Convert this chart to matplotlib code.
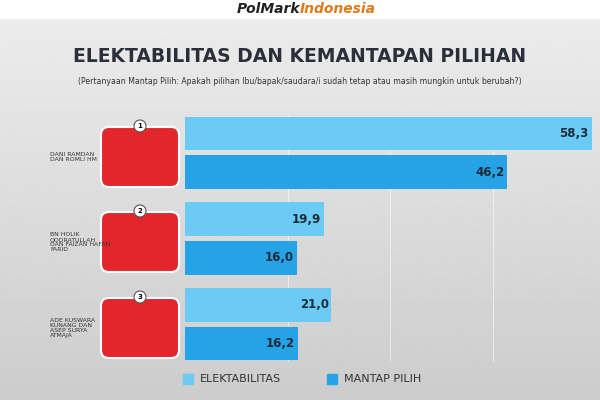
import matplotlib
matplotlib.use("Agg")
import matplotlib.pyplot as plt
import numpy as np
from matplotlib.patches import FancyBboxPatch, Circle

candidates = ["DANI RAMDAN\nDAN ROMLI HM", "BN HOLIK\nQODRATULLAH\nDAN FAIZAN HAFAN\nFARID", "ADE KUSWARA\nKUNANG DAN\nASEP SURYA\nATMAJA"]
numbers = ["1", "2", "3"]
elektabilitas = [58.3, 19.9, 21.0]
mantap_pilih = [46.2, 16.0, 16.2]
value_labels_e = ["58,3", "19,9", "21,0"]
value_labels_m = ["46,2", "16,0", "16,2"]

C_E = "#6ccbf4"
C_M = "#26a3e6"

fig = plt.figure(figsize=(6, 4), dpi=100)
bg = fig.add_axes([0, 0, 1, 1])
grad = np.linspace(0.93, 0.80, 256).reshape(-1, 1)
bg.imshow(grad, cmap="gray", vmin=0, vmax=1, aspect="auto", extent=[0, 600, 0, 400])
bg.add_patch(plt.Rectangle((0, 382), 600, 18, color="white"))
bg.set_xlim(0, 600); bg.set_ylim(0, 400); bg.axis("off")
bg.text(300, 391, "PolMark", ha="right", va="center", fontsize=10, fontweight="bold", style="italic", color="#222222")
bg.text(300, 391, "Indonesia", ha="left", va="center", fontsize=10, fontweight="bold", style="italic", color="#e07a1a")
bg.text(300, 344, "ELEKTABILITAS DAN KEMANTAPAN PILIHAN", ha="center", va="center", fontsize=13.5, fontweight="bold", color="#2a2f3a")
bg.text(300, 318, "(Pertanyaan Mantap Pilih: Apakah pilihan Ibu/bapak/saudara/i sudah tetap atau masih mungkin untuk berubah?)", ha="center", va="center", fontsize=5.6, color="#333333")

ax = fig.add_axes([185/600, 1-362/400, 410/600, 247/400])
ax.patch.set_alpha(0)
y_e = [0, 2.55, 5.1]
y_m = [1.15, 3.7, 6.25]
ax.barh(y_e, elektabilitas, height=1.0, color=C_E)
ax.barh(y_m, mantap_pilih, height=1.0, color=C_M)
for y, v, t in zip(y_e, elektabilitas, value_labels_e):
    ax.text(v - 0.4, y, t, ha="right", va="center", fontsize=8.5, fontweight="bold", color="#1d2b3a")
for y, v, t in zip(y_m, mantap_pilih, value_labels_m):
    ax.text(v - 0.4, y, t, ha="right", va="center", fontsize=8.5, fontweight="bold", color="#1d2b3a")
ax.set_xlim(0, 58.8)
ax.set_ylim(6.8, -0.55)
for x in [14.7, 29.4, 44.1]:
    ax.axvline(x, color="white", lw=0.6, alpha=0.6, zorder=0)
ax.axis("off")

pys = [243, 158, 72]
for py, name, n in zip(pys, candidates, numbers):
    bg.text(50, py, name, ha="left", va="center", fontsize=4.4, color="#333333", linespacing=1.0)
    bg.add_patch(FancyBboxPatch((101, py - 30), 78, 60, boxstyle="round,pad=0,rounding_size=8", fc="#e3262c", ec="white", lw=1.5))
    bg.add_patch(Circle((140, py + 31), 6, fc="white", ec="#555555", lw=0.8))
    bg.text(140, py + 31, n, ha="center", va="center", fontsize=5, fontweight="bold")

bg.add_patch(plt.Rectangle((183, 16), 10, 10, color=C_E))
bg.text(200, 21, "ELEKTABILITAS", va="center", fontsize=8, color="#333333")
bg.add_patch(plt.Rectangle((327, 16), 10, 10, color=C_M))
bg.text(344, 21, "MANTAP PILIH", va="center", fontsize=8, color="#333333")

fig.savefig("out.png", dpi=100)
